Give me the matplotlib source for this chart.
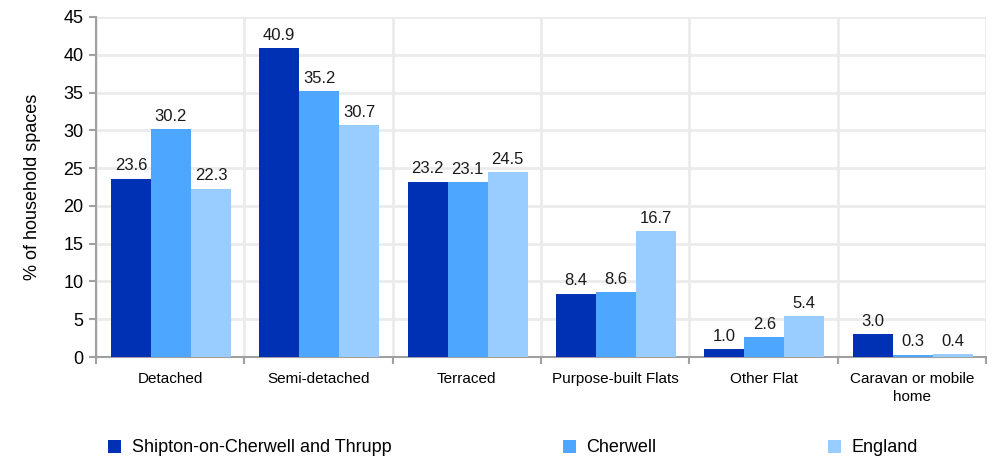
import matplotlib.pyplot as plt
import numpy as np

plt.rcParams['font.family'] = ['Liberation Sans', 'DejaVu Sans']

# data
categories = ['Detached', 'Semi-detached', 'Terraced', 'Purpose-built Flats',
              'Other Flat', 'Caravan or mobile\nhome']
series_names = ['Shipton-on-Cherwell and Thrupp', 'Cherwell', 'England']
shipton = [23.6, 40.9, 23.2, 8.4, 1.0, 3.0]
cherwell = [30.2, 35.2, 23.1, 8.6, 2.6, 0.3]
england = [22.3, 30.7, 24.5, 16.7, 5.4, 0.4]
colors = ['#0030B4', '#4DA6FF', '#99CCFF']

fig = plt.figure(figsize=(9.92, 4.58), dpi=100)
ax = fig.add_axes([96/992, 101/458, 890/992, 340/458])

x = np.arange(len(categories))
w = 0.27
for i, (vals, name, c) in enumerate(zip([shipton, cherwell, england], series_names, colors)):
    bars = ax.bar(x + (i - 1) * w + 0.005, vals, w, color=c, label=name, zorder=3)
    for b, v in zip(bars, vals):
        ax.text(b.get_x() + b.get_width()/2, v + 0.7, '%.1f' % v,
                ha='center', va='bottom', fontsize=12, color='#1a1a1a', zorder=4)

ax.set_xlim(-0.5, len(categories) - 0.5)
ax.set_ylim(0, 45)
ax.set_yticks(np.arange(0, 46, 5))
ax.set_xticks(x)
ax.set_xticklabels(categories, fontsize=11, linespacing=1.3)
ax.set_xticks(np.arange(-0.5, len(categories), 1), minor=True)
ax.tick_params(axis='x', which='major', length=0, pad=11)
ax.tick_params(axis='x', which='minor', length=5, color='#A0A0A0', width=1.5)
ax.tick_params(axis='y', labelsize=13, length=5, color='#A0A0A0', width=1.5, pad=4)
ax.grid(axis='y', color='#EBEBEB', linewidth=2, zorder=0)
ax.grid(axis='x', which='minor', color='#EBEBEB', linewidth=2, zorder=0)
for s in ['top', 'right']:
    ax.spines[s].set_visible(False)
for s in ['left', 'bottom']:
    ax.spines[s].set_color('#A0A0A0')
    ax.spines[s].set_linewidth(1.5)
ax.set_ylabel('% of household spaces', fontsize=13, labelpad=16)

fig.legend(loc='center left', bbox_to_anchor=(92/992, 10/458), ncol=3,
           frameon=False, fontsize=13, handlelength=0.7, handleheight=0.7,
           handletextpad=0.6, columnspacing=9.5)

fig.savefig('out.png', dpi=100)
